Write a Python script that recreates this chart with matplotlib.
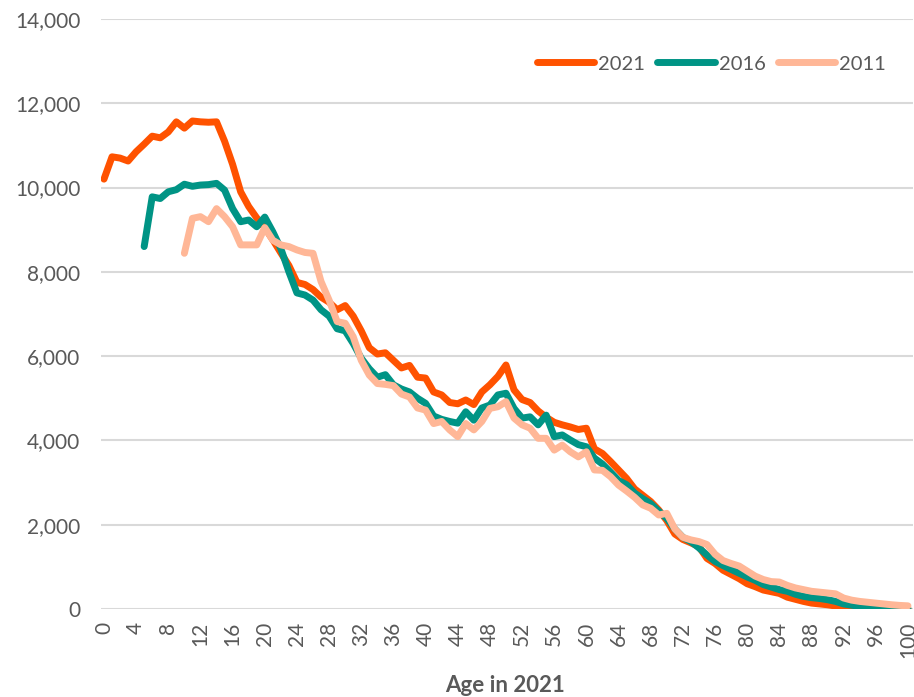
import numpy as np
import matplotlib.pyplot as plt

plt.rcParams['font.family'] = ['Lato', 'DejaVu Sans']

# Population by single year of age, aligned to age in 2021
ages_2021 = list(range(0, 101))
pop_2021 = [10200, 10730, 10700, 10630, 10850, 11030, 11220, 11180, 11320, 11560,
            11410, 11580, 11560, 11550, 11560, 11100, 10550, 9900, 9550, 9280,
            9050, 8760, 8450, 8150, 7750, 7700, 7580, 7400, 7280, 7100,
            7200, 6950, 6600, 6200, 6050, 6080, 5900, 5720, 5780, 5500,
            5480, 5150, 5080, 4900, 4870, 4960, 4850, 5150, 5320, 5520,
            5790, 5200, 4970, 4900, 4700, 4550, 4430, 4370, 4320, 4260,
            4290, 3800, 3690, 3500, 3300, 3100, 2850, 2700, 2550, 2350,
            2100, 1780, 1650, 1570, 1480, 1200, 1080, 920, 820, 720,
            600, 530, 450, 410, 370, 280, 230, 180, 140, 120,
            100, 70, 50, 30, 20, 15, 10, 7, 5, 3, 2]

ages_2016 = list(range(5, 101))
pop_2016 = [8600, 9780, 9740, 9900, 9950,
            10080, 10030, 10060, 10070, 10100, 9940, 9500, 9190, 9230, 9070,
            9300, 8950, 8550, 8000, 7500, 7450, 7330, 7100, 6950, 6650,
            6600, 6300, 5950, 5700, 5500, 5560, 5320, 5220, 5150, 5000,
            4880, 4580, 4500, 4450, 4410, 4680, 4480, 4770, 4840, 5080,
            5120, 4760, 4530, 4560, 4370, 4600, 4090, 4130, 4010, 3900,
            3850, 3580, 3440, 3250, 3050, 2950, 2750, 2620, 2500, 2320,
            2150, 1900, 1700, 1600, 1450, 1280, 1130, 1030, 940, 850,
            760, 680, 580, 520, 460, 420, 350, 300, 270, 250,
            220, 180, 120, 90, 60, 40, 30, 20, 15, 10, 8]

ages_2011 = list(range(10, 101))
pop_2011 = [8440, 9270, 9310, 9190, 9500, 9310, 9070, 8640, 8640, 8640,
            9050, 8750, 8640, 8600, 8520, 8460, 8440, 7770, 7330, 6820,
            6780, 6460, 5900, 5550, 5350, 5330, 5300, 5100, 5030, 4770,
            4720, 4400, 4450, 4250, 4090, 4400, 4250, 4450, 4760, 4800,
            4920, 4530, 4370, 4290, 4050, 4050, 3770, 3890, 3730, 3610,
            3730, 3300, 3290, 3140, 2940, 2800, 2650, 2470, 2390, 2230,
            2270, 1900, 1700, 1640, 1600, 1530, 1300, 1150, 1080, 1020,
            900, 780, 700, 650, 640, 560, 500, 460, 420, 400,
            380, 360, 260, 210, 180, 160, 140, 120, 100, 85, 75]

series = [('2021', ages_2021, pop_2021, '#FF5200'),
          ('2016', ages_2016, pop_2016, '#009485'),
          ('2011', ages_2011, pop_2011, '#FFB797')]

x_ticks = list(range(0, 101, 4))
y_ticks = list(range(0, 14001, 2000))

fig = plt.figure(figsize=(9.14, 6.97), dpi=100)
ax = fig.add_axes([101 / 914, 88 / 697, 811.8 / 914, 590 / 697])

for name, x, y, col in series:
    ax.plot(x, y, color=col, lw=5, label=name,
            solid_capstyle='round', solid_joinstyle='round')

ax.set_xlim(-0.37, 100.6)
ax.set_ylim(0, 14000)
ax.set_yticks(y_ticks)
ax.set_yticklabels(['{:,}'.format(v) for v in y_ticks])
ax.set_xticks(x_ticks)
ax.set_xticklabels([str(v) for v in x_ticks], rotation=90)

ax.grid(axis='y', color='#D9D9D9', lw=1.5)
ax.set_axisbelow(True)
for s in ax.spines.values():
    s.set_visible(False)
ax.tick_params(axis='both', length=0, labelsize=15, colors='#595959')
ax.tick_params(axis='y', pad=15)
ax.tick_params(axis='x', pad=9)

leg = ax.legend(loc='center right', bbox_to_anchor=(886 / 914, 1 - 64 / 697),
                bbox_transform=fig.transFigure, ncol=3, frameon=False,
                fontsize=14.5, handlelength=2.85, handletextpad=0.2,
                columnspacing=0.6, borderpad=0, borderaxespad=0)
for t in leg.get_texts():
    t.set_color('#595959')

fig.text(505 / 914, 1 - 686 / 697, 'Age in 2021', ha='center', va='center',
         fontsize=16, fontweight='bold', color='#595959')

fig.savefig('out.png', dpi=100)
